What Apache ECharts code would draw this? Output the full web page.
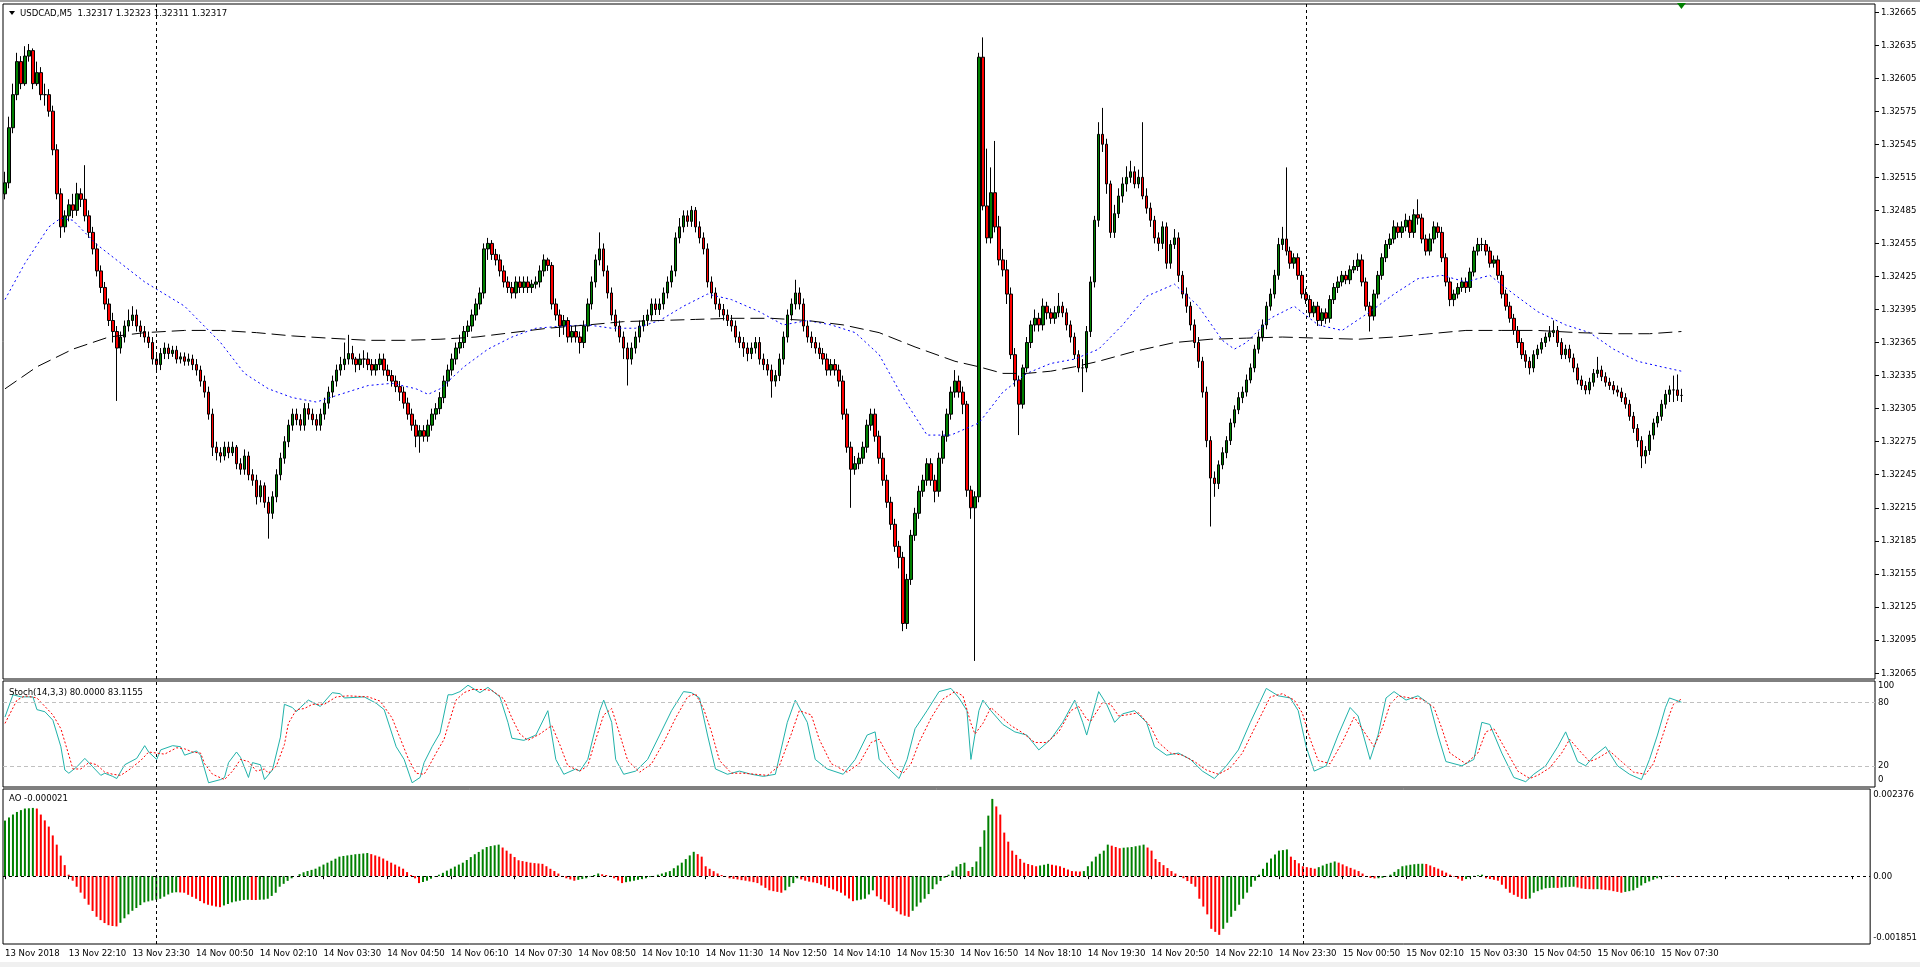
<!DOCTYPE html>
<html><head><meta charset="utf-8">
<script src="https://cdn.jsdelivr.net/npm/echarts@6/dist/echarts.min.js"></script>
<style>html,body{margin:0;padding:0;background:#fff;overflow:hidden}#c{width:1920px;height:967px}</style>
</head><body><div id="c"></div>
<script>
const FONT = "'DejaVu Sans Condensed','DejaVu Sans',sans-serif";
const BASE = 1.32; // price = BASE + points/100000
const firstOpenPts = 500;
const closePts = [
510,560,590,620,600,625,630,600,610,590,
590,575,540,500,470,480,490,485,500,495,
480,465,450,430,415,400,385,375,360,370,
380,385,390,380,375,370,365,350,345,355,
360,355,358,350,352,348,350,345,340,330,
320,300,270,265,262,270,265,270,255,250,
262,245,240,225,235,220,210,225,245,260,
275,290,300,295,290,305,300,295,290,300,
310,320,330,340,345,350,355,350,345,350,
350,345,340,345,350,340,335,330,325,320,
310,300,290,280,285,280,290,300,305,315,
330,340,350,360,365,375,380,390,400,410,
450,455,445,440,430,420,415,410,420,415,
420,415,418,420,430,440,435,400,390,380,
385,370,375,370,365,380,400,420,440,450,
430,410,390,380,370,360,350,360,370,380,
385,390,400,395,400,410,420,430,460,470,
480,475,485,470,460,450,420,410,400,395,
390,385,380,370,365,360,355,360,365,350,
345,340,330,335,350,370,390,400,410,400,
380,370,365,360,355,350,340,345,340,330,
300,270,250,255,260,270,290,300,280,260,
240,220,200,180,170,110,150,190,210,230,
240,255,240,230,260,280,300,320,330,320,
309,231,215,225,624,489,460,501,470,440,
431,409,354,331,309,342,365,381,387,381,
398,392,387,392,398,392,381,370,354,342,
342,375,420,476,554,545,509,465,482,498,
509,515,520,509,515,498,487,476,460,455,
470,437,454,460,426,409,398,381,365,348,
320,276,242,237,254,265,276,292,304,315,
320,331,342,359,370,381,398,409,426,454,
459,448,437,442,426,409,404,392,398,385,
392,387,404,415,420,426,422,431,434,440,
420,398,389,409,426,442,454,459,470,465,
470,476,465,481,478,459,448,459,470,465,
442,420,404,409,415,420,415,429,448,454,
454,448,437,440,426,409,398,387,376,365,
354,348,342,354,359,365,370,374,376,365,
354,359,351,342,331,326,322,329,337,340,
334,329,326,322,320,315,309,298,287,276,
262,267,281,292,298,309,318,322,322,317,
317];
const highPts = [
520,570,600,628,625,634,636,632,620,615,
600,595,580,545,505,485,495,500,510,505,
526,485,470,455,435,420,405,392,380,375,
385,395,398,395,385,380,375,370,355,360,
365,364,362,362,356,356,355,354,350,344,
335,325,305,275,270,275,275,275,272,260,
268,266,250,245,240,238,225,230,250,265,
280,295,305,305,300,310,310,305,300,305,
315,325,335,345,352,365,372,362,352,355,
358,356,350,350,355,355,345,340,335,330,
325,315,305,295,290,290,295,305,310,320,
335,345,355,365,372,380,385,395,405,415,
455,460,458,450,445,435,425,420,425,425,
425,425,422,425,435,445,442,438,405,395,
390,388,380,380,375,385,405,425,445,465,
455,435,415,395,385,375,365,365,375,385,
390,395,405,405,405,415,425,435,465,478,
485,485,489,488,475,465,455,425,415,405,
400,395,390,385,375,370,365,365,370,370,
355,350,345,340,355,375,395,405,422,415,
405,385,375,370,365,360,355,350,350,345,
335,305,275,262,265,275,295,305,305,285,
265,245,225,205,185,175,155,195,215,235,
245,260,260,245,265,285,305,325,340,335,
325,312,235,230,628,642,541,524,548,480,
450,440,415,360,335,345,370,385,395,392,
405,402,396,398,410,402,396,385,374,358,
350,380,425,480,565,578,550,512,490,505,
515,525,530,525,522,565,505,492,480,465,
475,474,458,468,465,430,415,402,386,370,
352,325,280,248,258,270,280,296,308,320,
325,336,346,363,375,386,402,414,431,460,
470,524,452,446,446,430,414,408,402,402,
396,396,408,419,425,430,430,435,440,446,
445,424,402,413,430,446,458,464,476,474,
475,482,480,486,495,482,463,464,475,474,
470,446,424,413,419,424,424,433,452,460,
460,458,452,444,444,430,413,402,391,380,
369,358,352,358,363,369,374,380,385,380,
369,363,363,355,346,335,330,333,341,352,
344,338,333,330,326,324,319,313,302,291,
280,271,285,296,302,313,322,326,335,336,
323];
const lowPts = [
495,505,555,585,595,598,620,595,598,585,
580,570,535,495,460,465,475,478,480,488,
475,460,445,425,410,395,380,365,312,355,
365,375,380,375,370,365,360,345,338,340,
350,350,352,346,346,344,344,340,335,325,
315,295,262,258,256,258,260,262,250,245,
245,240,235,218,220,215,187,205,220,240,
255,270,285,290,285,285,295,290,285,285,
295,305,315,325,335,340,345,345,338,340,
342,340,335,335,340,335,330,325,320,312,
305,295,285,270,265,275,275,285,295,300,
310,325,335,345,355,360,370,375,385,395,
405,440,440,435,425,415,410,405,405,410,
410,410,410,414,415,425,430,395,385,370,
372,365,365,365,355,360,375,395,415,435,
425,405,385,375,365,350,326,345,355,365,
375,380,385,390,390,395,405,415,425,455,
465,470,470,465,455,445,415,405,395,388,
385,380,375,365,360,352,348,350,355,345,
340,335,315,325,330,345,365,385,395,395,
375,365,360,355,350,345,335,335,335,325,
295,265,215,245,250,255,265,285,275,255,
235,215,195,175,160,103,105,145,185,205,
225,235,235,220,225,255,275,295,315,315,
300,225,205,76,220,485,455,455,465,435,
425,400,350,325,281,305,338,360,375,375,
376,386,382,382,388,388,376,365,350,338,
320,338,370,415,470,538,500,460,460,478,
492,502,510,505,505,495,482,470,455,448,
450,432,432,450,420,405,392,376,360,342,
315,270,198,225,232,250,260,272,288,300,
310,316,328,338,355,366,377,394,405,422,
449,444,432,432,422,405,400,388,388,380,
380,382,383,400,410,416,418,418,428,430,
416,394,375,385,405,422,438,450,455,460,
460,466,460,460,472,455,444,444,455,460,
438,416,398,398,405,411,410,411,425,444,
448,444,433,433,422,405,394,383,372,360,
350,342,336,338,350,355,361,366,370,361,
350,350,347,338,327,322,318,318,325,333,
330,325,322,318,316,311,305,294,283,270,
251,255,263,277,288,294,305,311,311,312,
311];
// moving averages: [bar index, price points]
const maFastPts = [[0,404],[5,437],[11,470],[14,478],[17,476],[23,454],[29,437],[35,420],[45,398],[54,365],[60,337],[66,323],[72,315],[78,311],[84,318],[91,326],[97,328],[103,323],[106,318],[109,323],[115,343],[121,359],[127,370],[133,378],[140,380],[146,381],[152,378],[158,378],[164,385],[170,398],[176,409],[182,404],[189,393],[195,381],[201,385],[207,381],[213,374],[219,354],[225,315],[231,281],[237,281],[244,292],[250,320],[256,337],[262,346],[268,350],[274,359],[280,381],[286,407],[293,418],[299,398],[305,367],[308,359],[311,365],[317,387],[323,398],[329,381],[335,376],[342,393],[348,409],[354,423],[360,426],[366,420],[372,426],[378,409],[384,393],[391,381],[397,374],[403,359],[409,348],[415,343],[420,339]];
const maSlowPts = [[0,323],[8,343],[17,359],[26,370],[35,374],[45,376],[54,376],[63,374],[72,371],[81,369],[91,367],[100,367],[109,368],[118,370],[127,374],[136,378],[146,381],[155,384],[164,385],[173,386],[182,387],[192,387],[201,385],[210,381],[219,374],[228,361],[238,348],[244,343],[250,337],[256,337],[262,339],[268,343],[274,348],[283,357],[293,365],[302,368],[311,369],[320,370],[329,369],[339,368],[348,370],[357,373],[366,376],[375,376],[384,376],[394,374],[403,373],[412,373],[420,375]];
// stochastic %K and %D: [bar index, value]
const stochK = [[0,66],[2,87],[4,85],[7,85],[8,73],[10,71],[12,63],[14,38],[15,16],[16,13],[18,19],[20,27],[22,19],[24,11],[25,13],[27,10],[28,8],[30,21],[33,27],[35,39],[36,33],[38,26],[39,35],[42,39],[44,38],[45,30],[48,34],[49,30],[51,4],[54,7],[55,9],[56,23],[58,33],[59,28],[61,9],[62,23],[64,21],[65,7],[67,16],[69,47],[70,78],[72,75],[73,71],[74,75],[76,82],[79,76],[82,89],[84,88],[85,84],[90,85],[93,79],[95,73],[98,38],[100,26],[102,4],[104,9],[105,23],[107,38],[109,51],[111,87],[112,87],[114,90],[116,96],[119,89],[121,94],[124,85],[126,61],[127,46],[130,44],[133,49],[136,72],[138,26],[140,12],[143,17],[144,15],[146,26],[149,72],[150,82],[152,61],[153,26],[155,12],[158,15],[161,26],[164,49],[167,72],[170,90],[172,89],[174,84],[176,49],[178,17],[181,12],[184,15],[187,12],[190,10],[193,12],[196,61],[198,82],[201,61],[203,26],[206,17],[210,12],[213,26],[216,49],[218,52],[219,26],[222,15],[224,8],[226,26],[228,55],[231,72],[234,90],[237,93],[239,84],[241,72],[242,26],[244,72],[245,82],[247,72],[250,59],[253,52],[256,49],[259,35],[262,45],[265,61],[268,82],[270,61],[271,49],[274,90],[276,78],[278,61],[280,69],[283,72],[286,61],[288,38],[291,30],[294,32],[297,26],[300,15],[303,8],[306,20],[309,35],[312,61],[316,93],[319,86],[322,84],[324,72],[326,38],[328,15],[331,20],[334,49],[337,75],[339,67],[342,26],[344,49],[346,84],[348,90],[351,82],[354,86],[357,78],[359,49],[361,24],[365,20],[368,26],[370,61],[372,59],[375,32],[378,9],[381,5],[383,12],[386,20],[389,38],[391,52],[394,24],[396,20],[398,29],[401,38],[404,20],[407,12],[410,7],[412,26],[414,49],[416,75],[417,84],[420,80]];
const stochD = [[0,60],[3,82],[5,86],[8,84],[10,76],[12,68],[14,55],[16,30],[17,17],[19,17],[21,23],[23,21],[25,14],[27,12],[29,11],[31,16],[34,25],[36,33],[38,32],[40,31],[43,37],[45,36],[47,33],[49,32],[50,22],[52,12],[55,7],[57,15],[59,26],[61,24],[63,15],[65,17],[66,13],[68,20],[70,40],[71,60],[73,73],[75,74],[77,78],[80,78],[83,85],[86,86],[91,85],[94,81],[97,65],[99,46],[101,27],[103,13],[105,12],[106,18],[108,32],[110,45],[112,70],[113,82],[115,89],[117,92],[120,92],[122,91],[125,83],[127,65],[129,50],[131,44],[134,50],[137,58],[139,40],[141,20],[144,15],[146,20],[148,45],[150,68],[152,74],[154,50],[156,25],[159,14],[162,22],[165,42],[168,65],[171,85],[173,88],[175,74],[177,52],[179,25],[182,13],[185,13],[188,12],[191,11],[194,20],[197,50],[199,72],[202,68],[204,45],[207,22],[211,14],[214,22],[217,42],[219,45],[220,38],[223,18],[225,13],[227,22],[229,42],[232,65],[235,83],[238,90],[240,86],[242,60],[243,50],[245,60],[247,75],[249,68],[252,58],[255,51],[258,42],[261,42],[264,52],[267,72],[269,76],[271,64],[272,62],[275,80],[277,78],[279,67],[281,68],[284,70],[287,57],[289,42],[292,32],[295,30],[298,24],[301,16],[304,12],[307,18],[310,32],[313,55],[317,85],[320,88],[323,82],[325,70],[327,45],[329,25],[332,22],[335,42],[338,66],[340,55],[343,38],[345,55],[347,78],[349,86],[352,84],[355,83],[358,75],[360,55],[362,32],[366,22],[369,32],[371,52],[373,55],[376,35],[379,15],[382,8],[384,11],[387,18],[390,32],[392,45],[395,32],[397,24],[399,27],[402,34],[405,24],[408,14],[411,12],[413,22],[415,45],[417,68],[418,78],[420,83]];
// Awesome Oscillator per bar, in millionths
const aoMicro = [
1515,1600,1680,1750,1800,1843,1850,1860,1843,1679,
1520,1351,1110,859,560,300,39,-125,-290,-450,
-617,-780,-950,-1109,-1200,-1280,-1338,-1360,-1371,-1273,
-1150,-1043,-945,-870,-790,-715,-690,-665,-640,-617,
-560,-500,-453,-440,-445,-453,-510,-565,-617,-680,
-740,-781,-805,-830,-846,-800,-760,-715,-690,-670,
-650,-645,-650,-652,-645,-640,-617,-540,-453,-289,
-210,-130,-59,0,55,105,140,170,203,260,
315,367,420,475,531,550,565,580,597,607,
618,630,600,565,531,480,420,367,315,260,
203,110,30,-59,-190,-160,-125,-70,-15,39,
90,150,203,260,315,367,440,520,597,660,
730,794,820,840,859,780,695,610,520,433,
410,390,367,355,345,335,270,200,138,70,
5,-59,-90,-125,-100,-80,-59,-15,30,72,
50,30,7,-59,-120,-190,-165,-145,-125,-100,
-80,-59,-25,5,39,70,105,138,215,290,
367,465,565,663,600,531,269,200,135,72,
30,-10,-59,-75,-90,-110,-125,-145,-165,-190,
-255,-320,-387,-410,-430,-453,-387,-290,-190,-59,
-90,-125,-150,-170,-190,-235,-280,-322,-365,-410,
-453,-530,-610,-683,-660,-640,-617,-500,-387,-551,
-630,-700,-781,-870,-960,-1043,-1080,-1109,-945,-830,
-720,-617,-490,-355,-224,-130,-45,39,150,260,
330,367,138,250,400,800,1250,1650,2106,1900,
1679,1187,940,695,580,470,367,330,300,269,
290,310,335,310,290,269,225,180,138,130,
125,138,270,400,531,610,695,859,830,794,
761,775,785,794,815,835,859,780,695,466,
385,300,220,138,70,5,-59,-135,-210,-289,
-617,-830,-1043,-1437,-1520,-1601,-1437,-1270,-1109,-945,
-780,-617,-450,-290,-125,40,200,367,480,590,
695,710,728,531,440,350,269,245,225,203,
245,290,335,365,400,367,320,269,225,180,
138,70,5,-50,-62,-58,-45,-10,39,115,
190,269,290,310,325,335,338,332,290,245,
203,150,95,39,-15,-70,-125,-80,-35,7,
25,39,-59,-80,-100,-125,-235,-345,-453,-510,
-565,-617,-625,-610,-453,-410,-365,-330,-322,-318,
-322,-310,-300,-295,-289,-310,-335,-350,-355,-358,
-355,-365,-375,-387,-410,-430,-453,-430,-410,-387,
-320,-255,-190,-145,-100,-59,-35,-10,7,0,
-21];
const timeLabels = ['13 Nov 2018','13 Nov 22:10','13 Nov 23:30','14 Nov 00:50','14 Nov 02:10','14 Nov 03:30','14 Nov 04:50','14 Nov 06:10','14 Nov 07:30','14 Nov 08:50','14 Nov 10:10','14 Nov 11:30','14 Nov 12:50','14 Nov 14:10','14 Nov 15:30','14 Nov 16:50','14 Nov 18:10','14 Nov 19:30','14 Nov 20:50','14 Nov 22:10','14 Nov 23:30','15 Nov 00:50','15 Nov 02:10','15 Nov 03:30','15 Nov 04:50','15 Nov 06:10','15 Nov 07:30'];
const priceTicks = ['1.32665','1.32635','1.32605','1.32575','1.32545','1.32515','1.32485','1.32455','1.32425','1.32395','1.32365','1.32335','1.32305','1.32275','1.32245','1.32215','1.32185','1.32155','1.32125','1.32095','1.32065'];
const stochTicks = [100,80,20,0];
const aoTicks = [0.002376,0,-0.001851];
const separators = ['14 Nov 00:00','15 Nov 00:00'];
const lastPrice = 1.32317;

// ---- build
const N = closePts.length, SLOTS = 469;
const MON=['Jan','Feb','Mar','Apr','May','Jun','Jul','Aug','Sep','Oct','Nov','Dec'];
const cats=[]; const t0=Date.UTC(2018,10,13,20,50);
for(let i=0;i<SLOTS;i++){const d=new Date(t0+i*300000);cats.push(d.getUTCDate()+' '+MON[d.getUTCMonth()]+' '+String(d.getUTCHours()).padStart(2,'0')+':'+String(d.getUTCMinutes()).padStart(2,'0'));}
const px = p => +(BASE + p/100000).toFixed(5);
const candles = closePts.map((c,i)=>[px(i?closePts[i-1]:firstOpenPts), px(c), px(lowPts[i]), px(highPts[i])]);
const maF = maFastPts.map(([i,p])=>[i,px(p)]), maS = maSlowPts.map(([i,p])=>[i,px(p)]);
const aoData = aoMicro.map((v,i)=>({value:v/1e6,itemStyle:{color:(i>0&&v<aoMicro[i-1])?'#ff0000':'#008000'}}));

const lbl={fontFamily:FONT,fontSize:9.5,color:'#000'};
const sepLines = (extra)=>({silent:true,symbol:'none',animation:false,lineStyle:{color:'#000',type:[3,3],width:1},label:{show:false},data:separators.map(s=>({xAxis:s})).concat(extra||[])});
const grids=[{left:3,right:45,top:4,height:675},{left:3,right:45,top:681,height:106},{left:3,right:45,top:789,height:155}];
grids.forEach(g=>Object.assign(g,{show:true,borderColor:'#000',borderWidth:1,backgroundColor:'#fff'}));
const xA=[0,1,2].map(k=>({type:'category',gridIndex:k,data:cats,boundaryGap:true,axisLine:{show:false},splitLine:{show:false},
 axisTick:k===2?{show:true,interval:15,alignWithLabel:true,length:3,lineStyle:{color:'#000'}}:{show:false},
 axisLabel:k===2?{show:true,interval:15,align:'left',margin:5,...lbl,formatter:(v,i)=>timeLabels[Math.round(i/16)]||''}:{show:false}}));
const option={
 animation:false,backgroundColor:'#fff',
 title:[
  {text:'USDCAD,M5  1.32317 1.32323 1.32311 1.32317',left:20,top:9,padding:0,textStyle:{...lbl,fontWeight:'normal'}},
  {text:'Stoch(14,3,3) 80.0000 83.1155',left:9,top:688,padding:0,textStyle:{...lbl,fontWeight:'normal'}},
  {text:'AO -0.000021',left:9,top:794,padding:0,textStyle:{...lbl,fontWeight:'normal'}}],
 grid:grids, xAxis:xA,
 yAxis:[
  {type:'value',gridIndex:0,position:'right',min:1.320596,max:1.326723,scale:true,splitLine:{show:false},axisLine:{show:false},
   axisTick:{show:true,length:4,customValues:priceTicks.map(Number),lineStyle:{color:'#000'}},
   axisLabel:{...lbl,margin:6,customValues:priceTicks.map(Number),formatter:v=>v.toFixed(5)}},
  {type:'value',gridIndex:1,position:'right',min:0,max:100,splitLine:{show:false},axisLine:{show:false},axisTick:{show:false},
   axisLabel:{...lbl,margin:3,customValues:stochTicks,formatter:v=>v===100?'{t|100}':v===0?'{b|0}':String(v),rich:{t:{padding:[10,0,0,0],...lbl},b:{padding:[0,0,14,0],...lbl}}}},
  {type:'value',gridIndex:2,position:'right',min:-0.001851,max:0.002376,splitLine:{show:false},axisLine:{show:false},axisTick:{show:false},
   axisLabel:{...lbl,margin:3,customValues:aoTicks,formatter:v=>v>0?'{t|0.002376}':v<0?'{b|-0.001851}':'0.00',rich:{t:{padding:[12,0,0,0],...lbl},b:{padding:[0,0,12,0],...lbl}}}}],
 series:[
  {type:'candlestick',xAxisIndex:0,yAxisIndex:0,data:candles,barWidth:3,
   itemStyle:{color:'#008000',color0:'#ff0000',borderColor:'#000',borderColor0:'#000',borderWidth:1},
   markLine:sepLines([{yAxis:lastPrice,lineStyle:{color:'#0b6a0b',type:'solid',width:1},label:{show:true,position:'end',formatter:'1.32317',backgroundColor:'#000',color:'#fff',fontFamily:FONT,fontSize:9.5,padding:[1,3,0,3],distance:1}}]),
   markPoint:{symbol:'triangle',symbolSize:[9,6],symbolRotate:180,itemStyle:{color:'#008000'},label:{show:false},data:[{coord:[N-1,1.326705]}]}},
  {type:'line',xAxisIndex:0,yAxisIndex:0,data:maF,showSymbol:false,lineStyle:{color:'#0000ff',width:1,type:[2,3]}},
  {type:'line',xAxisIndex:0,yAxisIndex:0,data:maS,showSymbol:false,lineStyle:{color:'#000',width:1,type:[14,6]}},
  {type:'line',xAxisIndex:1,yAxisIndex:1,data:stochK,showSymbol:false,lineStyle:{color:'#20b2aa',width:1},
   markLine:sepLines([{yAxis:80,lineStyle:{color:'#c0c0c0',type:[4,3]}},{yAxis:20,lineStyle:{color:'#c0c0c0',type:[4,3]}}])},
  {type:'line',xAxisIndex:1,yAxisIndex:1,data:stochD,showSymbol:false,lineStyle:{color:'#ff0000',width:1,type:[2,2]}},
  {type:'bar',xAxisIndex:2,yAxisIndex:2,data:aoData,barWidth:2,
   markLine:sepLines([{yAxis:0,lineStyle:{color:'#000',type:[3,3]}}])}],
 graphic:[
  {type:'rect',shape:{x:0,y:0,width:1920,height:2},style:{fill:'#a0a0a0'},silent:true},
  {type:'rect',shape:{x:0,y:962,width:1920,height:5},style:{fill:'#f0f0f0'},silent:true},
  {type:'polygon',shape:{points:[[9,11],[15,11],[12,15]]},style:{fill:'#000'},silent:true}]
};
const chart=echarts.init(document.getElementById('c'),null,{renderer:'canvas'});
chart.setOption(option);
</script></body></html>
